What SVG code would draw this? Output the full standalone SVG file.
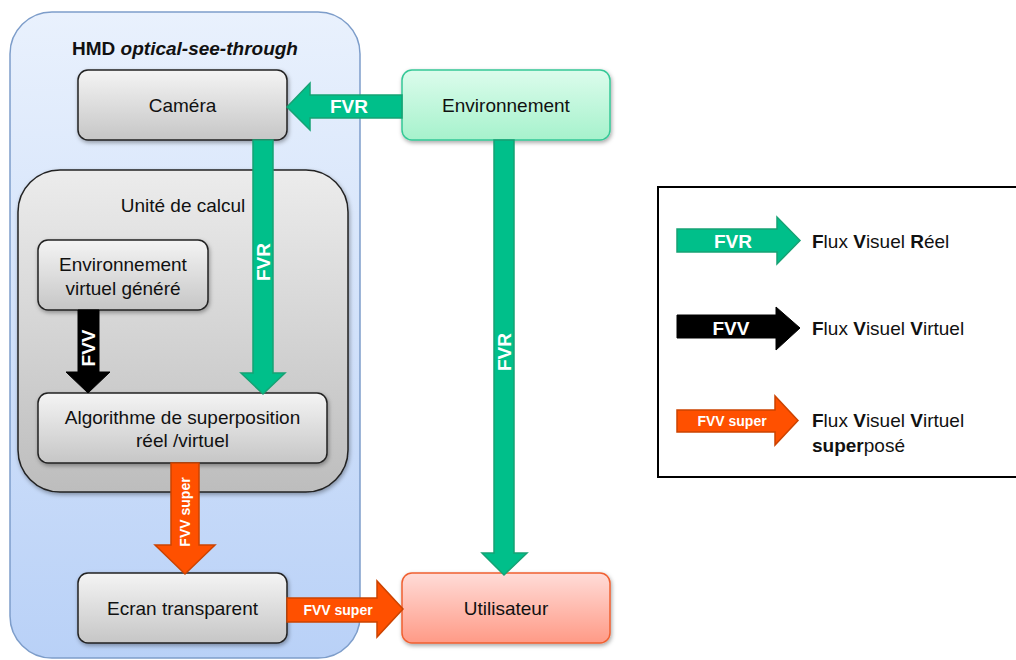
<svg xmlns="http://www.w3.org/2000/svg" width="1016" height="660" viewBox="0 0 1016 660">
<defs>
<linearGradient id="gBlue" x1="0" y1="0" x2="0" y2="1"><stop offset="0" stop-color="#e9f1fd"/><stop offset="1" stop-color="#b9d1f7"/></linearGradient>
<linearGradient id="gUnit" x1="0" y1="0" x2="0" y2="1"><stop offset="0" stop-color="#ececec"/><stop offset="1" stop-color="#bdbdbd"/></linearGradient>
<linearGradient id="gBox" x1="0" y1="0" x2="0" y2="1"><stop offset="0" stop-color="#f4f4f4"/><stop offset="1" stop-color="#c6c6c6"/></linearGradient>
<linearGradient id="gGreen" x1="0" y1="0" x2="0" y2="1"><stop offset="0" stop-color="#dcfcec"/><stop offset="1" stop-color="#a6f2cc"/></linearGradient>
<linearGradient id="gPink" x1="0" y1="0" x2="0" y2="1"><stop offset="0" stop-color="#ffdcd8"/><stop offset="1" stop-color="#ff9a86"/></linearGradient>
<filter id="sh" x="-10%" y="-10%" width="130%" height="140%"><feDropShadow dx="1" dy="2" stdDeviation="2" flood-color="#000" flood-opacity="0.35"/></filter>
</defs>
<style>
text{font-family:"Liberation Sans",Arial,sans-serif;}
.lbl{font-size:19px;fill:#111;text-anchor:middle;}
.box{fill:url(#gBox);stroke:#222;stroke-width:1.5;filter:url(#sh);}
.fvr{fill:#00bf8a;stroke:#16a274;stroke-width:1.5;}
.fvv{fill:#000;stroke:#000;stroke-width:1;}
.sup{fill:#ff5000;stroke:#cc4300;stroke-width:1.5;}
.at{fill:#fff;font-weight:bold;text-anchor:middle;}
.big{font-size:19px;}
.small{font-size:14px;}
.leg{font-size:19px;fill:#111;}
</style>

<g id="hmd">
<rect x="10" y="12" width="350" height="646" rx="42" fill="url(#gBlue)" stroke="#7d9dca" stroke-width="1.5"/>
<text x="185" y="55" text-anchor="middle" style="font-size:19px;font-weight:bold;fill:#111">HMD <tspan font-style="italic">optical-see-through</tspan></text>
</g>

<g id="unite">
<rect x="18" y="170" width="330" height="322" rx="42" fill="url(#gUnit)" stroke="#222" stroke-width="1.5" filter="url(#sh)"/>
<text x="183" y="212" class="lbl">Unité de calcul</text>
</g>

<g id="camera">
<rect x="78" y="70" width="209" height="70" rx="10" class="box"/>
<text x="182.5" y="112" class="lbl">Caméra</text>
</g>

<g id="environnement">
<rect x="402" y="70" width="208" height="70" rx="10" fill="url(#gGreen)" stroke="#35c896" stroke-width="1.5" filter="url(#sh)"/>
<text x="506" y="112" class="lbl">Environnement</text>
</g>

<g id="envvirtuel">
<rect x="38" y="240" width="170" height="70" rx="10" class="box"/>
<text x="123" y="271" class="lbl">Environnement</text>
<text x="123" y="295" class="lbl">virtuel généré</text>
</g>

<g id="algorithme">
<rect x="38" y="393" width="289" height="70" rx="10" class="box"/>
<text x="182.5" y="424" class="lbl">Algorithme  de superposition</text>
<text x="182.5" y="447" class="lbl">réel /virtuel</text>
</g>

<g id="ecran">
<rect x="78" y="573" width="209" height="70" rx="10" class="box"/>
<text x="182.5" y="615" class="lbl">Ecran transparent</text>
</g>

<g id="utilisateur">
<rect x="402" y="573" width="208" height="70" rx="10" fill="url(#gPink)" stroke="#f06030" stroke-width="1.5" filter="url(#sh)"/>
<text x="506" y="615" class="lbl">Utilisateur</text>
</g>

<g id="connectors">
<polygon class="fvr" points="402,95 310,95 310,83 287,107 310,130 310,118 402,118"/>
<text x="349" y="113" class="at big">FVR</text>

<polygon class="fvr" points="253,140 273,140 273,373 285,373 263,394 241,373 253,373"/>
<text class="at big" transform="translate(270,262) rotate(-90)">FVR</text>

<polygon class="fvv" points="78,310 99,310 99,372 110,372 88,393 66,372 78,372"/>
<text class="at big" transform="translate(95,348) rotate(-90)">FVV</text>

<polygon class="sup" points="171,463 199,463 199,545 215,545 185,574 155,545 171,545"/>
<text class="at small" transform="translate(190,512) rotate(-90)">FVV super</text>

<polygon class="sup" points="287,598 377,598 377,581 403,609 377,637 377,622 287,622"/>
<text x="338" y="615" class="at small">FVV super</text>

<polygon class="fvr" points="494,140 514,140 514,553 527,553 504,575 482,553 494,553"/>
<text class="at big" transform="translate(511,352) rotate(-90)">FVR</text>
</g>

<g id="legend">
<rect x="658" y="187" width="370" height="290" fill="#fff" stroke="#000" stroke-width="2"/>
<polygon class="fvr" points="677,229 777,229 777,217 800,240.5 777,264 777,252 677,252"/>
<text x="733" y="248" class="at big">FVR</text>
<text x="812" y="248" class="leg"><tspan font-weight="bold">F</tspan>lux <tspan font-weight="bold">V</tspan>isuel <tspan font-weight="bold">R</tspan>éel</text>

<polygon class="fvv" points="677,315 776,315 776,307 800,328 776,350 776,338 677,338"/>
<text x="731" y="335" class="at big">FVV</text>
<text x="812" y="335" class="leg"><tspan font-weight="bold">F</tspan>lux <tspan font-weight="bold">V</tspan>isuel <tspan font-weight="bold">V</tspan>irtuel</text>

<polygon class="sup" points="677,410 775,410 775,396 798,420.5 775,445 775,432 677,432"/>
<text x="732" y="426" class="at small">FVV super</text>
<text x="812" y="427" class="leg"><tspan font-weight="bold">F</tspan>lux <tspan font-weight="bold">V</tspan>isuel <tspan font-weight="bold">V</tspan>irtuel</text>
<text x="812" y="452" class="leg"><tspan font-weight="bold">super</tspan>posé</text>
</g>
</svg>
